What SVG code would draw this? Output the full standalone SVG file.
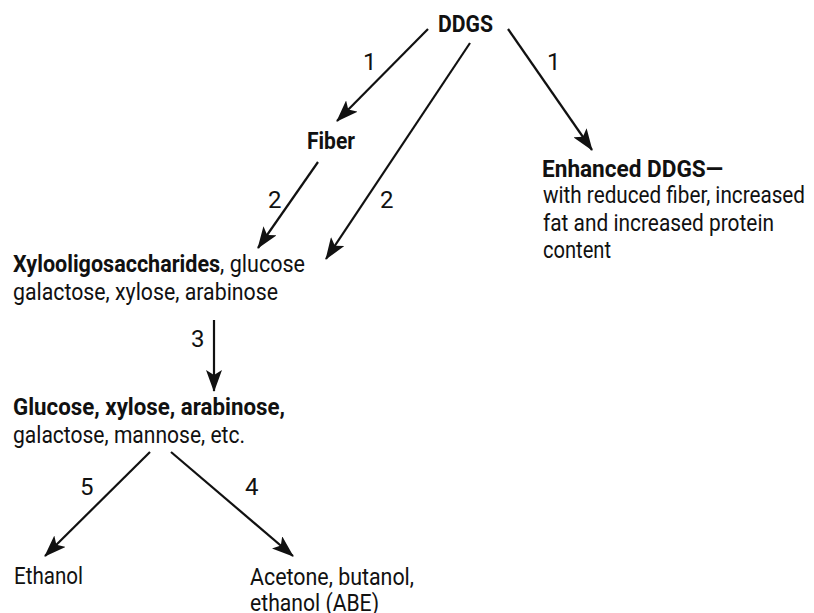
<svg xmlns="http://www.w3.org/2000/svg" width="814" height="613" viewBox="0 0 814 613">
<style>
text{font-family:Roboto,"Liberation Sans",sans-serif;font-size:24px;fill:#111}
.b{font-weight:bold}
.c line{stroke:#111;stroke-width:2.2;marker-end:url(#ah)}
</style>
<defs>
<marker id="ah" viewBox="0 0 22 16" refX="21" refY="8" markerWidth="22" markerHeight="16" markerUnits="userSpaceOnUse" orient="auto">
<path d="M0,0 L22,8 L0,16 L5,8 Z" fill="#111"/>
</marker>
</defs>
<rect width="814" height="613" fill="#fff"/>
<g id="ddgs"><text x="438" y="32" class="b" textLength="55" lengthAdjust="spacingAndGlyphs">DDGS</text></g>
<g id="fiber"><text x="307" y="149" class="b" textLength="48" lengthAdjust="spacingAndGlyphs">Fiber</text></g>
<g id="enhanced">
<text x="542" y="177" class="b" textLength="181" lengthAdjust="spacingAndGlyphs">Enhanced DDGS—</text>
<text x="543" y="203" textLength="262" lengthAdjust="spacingAndGlyphs">with reduced fiber, increased</text>
<text x="543" y="231" textLength="231" lengthAdjust="spacingAndGlyphs">fat and increased protein</text>
<text x="543" y="258" textLength="68" lengthAdjust="spacingAndGlyphs">content</text>
</g>
<g id="xylo">
<text x="13" y="272" textLength="292" lengthAdjust="spacingAndGlyphs"><tspan class="b">Xylooligosaccharides</tspan>, glucose</text>
<text x="13" y="300" textLength="265" lengthAdjust="spacingAndGlyphs">galactose, xylose, arabinose</text>
</g>
<g id="glucose">
<text x="13" y="415" class="b" textLength="272" lengthAdjust="spacingAndGlyphs">Glucose, xylose, arabinose,</text>
<text x="13" y="443" textLength="232" lengthAdjust="spacingAndGlyphs">galactose, mannose, etc.</text>
</g>
<g id="ethanol"><text x="14" y="584" textLength="69" lengthAdjust="spacingAndGlyphs">Ethanol</text></g>
<g id="abe">
<text x="250" y="585" textLength="164" lengthAdjust="spacingAndGlyphs">Acetone, butanol,</text>
<text x="250" y="611" textLength="129" lengthAdjust="spacingAndGlyphs">ethanol (ABE)</text>
</g>
<g id="connectors" class="c">
<line x1="428" y1="29" x2="337" y2="121"/>
<line x1="470" y1="43" x2="326" y2="259"/>
<line x1="508" y1="29" x2="592" y2="150"/>
<line x1="318" y1="162" x2="258" y2="248"/>
<line x1="214" y1="320" x2="214" y2="391"/>
<line x1="150" y1="452" x2="45" y2="556"/>
<line x1="171" y1="452" x2="293" y2="556"/>
</g>
<g id="labels">
<text x="363" y="70">1</text>
<text x="547" y="70">1</text>
<text x="268" y="208">2</text>
<text x="380" y="208">2</text>
<text x="191" y="347">3</text>
<text x="80" y="495">5</text>
<text x="245" y="495">4</text>
</g>
</svg>
